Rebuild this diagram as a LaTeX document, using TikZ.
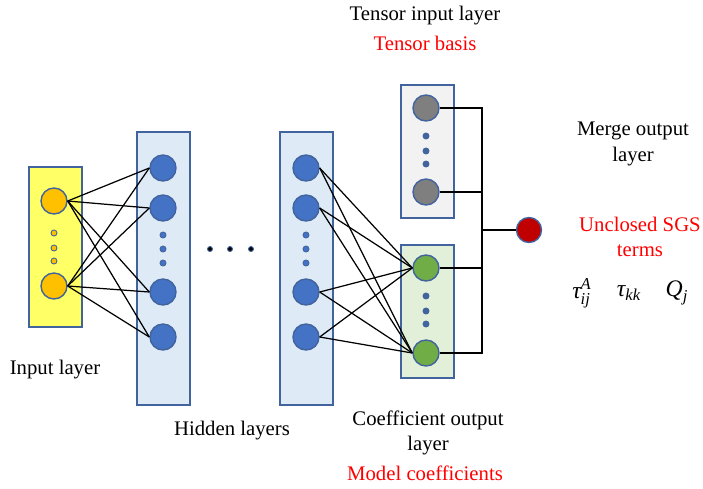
\documentclass[tikz,border=0pt]{standalone}
\usepackage{amsmath}
\usepackage{fontspec}
\setmainfont{Liberation Serif}
\usetikzlibrary{positioning}

\definecolor{edgeblue}{HTML}{41649E}
\definecolor{inyellow}{HTML}{FFFF66}
\definecolor{hidfill}{HTML}{DEEAF6}
\definecolor{tenfill}{HTML}{F2F2F2}
\definecolor{coefill}{HTML}{E2F0D9}
\definecolor{nblue}{HTML}{4472C4}
\definecolor{norange}{HTML}{FFC000}
\definecolor{ngray}{HTML}{7F7F7F}
\definecolor{ngreen}{HTML}{70AD47}
\definecolor{nred}{HTML}{C00000}
\definecolor{txtred}{HTML}{FF0000}

\newcommand{\itx}[1]{\text{\itshape #1}}

\begin{document}
\begin{tikzpicture}[x=0.02cm, y=-0.02cm,
  font=\fontsize{11.8}{14.5}\selectfont,
  layerbox/.style={draw=edgeblue, line width=0.8pt},
  neuron/.style={circle, draw=edgeblue, line width=0.8pt, minimum size=0.52cm, inner sep=0pt},
  smalldot/.style={circle, draw=edgeblue, line width=0.5pt, minimum size=0.12cm, inner sep=0pt},
  link/.style={black, line width=0.7pt},
  symlab/.style={font=\fontsize{13.5}{16}\selectfont}]
\useasboundingbox (0,0) rectangle (703,488);

% layer boxes
\draw[layerbox, fill=inyellow] (29,167) rectangle (82,327);
\draw[layerbox, fill=hidfill] (137,132) rectangle (190,405);
\draw[layerbox, fill=hidfill] (280,132) rectangle (333,405);
\draw[layerbox, fill=tenfill] (401,85) rectangle (454,218);
\draw[layerbox, fill=coefill] (401,245) rectangle (454,378);

% input layer
\node[neuron, fill=norange] (in1) at (54,201) {};
\node[neuron, fill=norange] (in2) at (54,286) {};
\foreach \y in {233,248,261}
  \node[smalldot, fill=norange] at (54,\y) {};

% hidden layers
\node[neuron, fill=nblue] (ha1) at (163,168) {};
\node[neuron, fill=nblue] (ha2) at (163,208) {};
\node[neuron, fill=nblue] (ha3) at (163,292) {};
\node[neuron, fill=nblue] (ha4) at (163,337) {};
\node[neuron, fill=nblue] (hb1) at (306,168) {};
\node[neuron, fill=nblue] (hb2) at (306,208) {};
\node[neuron, fill=nblue] (hb3) at (306,292) {};
\node[neuron, fill=nblue] (hb4) at (306,337) {};
\foreach \y in {235,249,263} {
  \node[smalldot, fill=nblue] at (163,\y) {};
  \node[smalldot, fill=nblue] at (306,\y) {};
}
\foreach \x in {210,230,251}
  \node[smalldot, fill=black, minimum size=0.1cm] at (\x,249) {};

% tensor input layer
\node[neuron, fill=ngray] (t1) at (426,108) {};
\node[neuron, fill=ngray] (t2) at (426,192) {};
\foreach \y in {136,151,164}
  \node[smalldot, fill=edgeblue] at (426,\y) {};

% coefficient output layer
\node[neuron, fill=ngreen] (c1) at (426,268) {};
\node[neuron, fill=ngreen] (c2) at (426,353) {};
\foreach \y in {296,311,324}
  \node[smalldot, fill=edgeblue] at (426,\y) {};

% merge output
\node[neuron, fill=nred, minimum size=0.5cm] (out) at (529,230) {};
\coordinate (bus) at (482,230);

% connections
\foreach \a in {in1,in2}
  \foreach \b in {ha1,ha2,ha3,ha4}
    \draw[link] (\a.east) -- (\b.west);
\foreach \a in {hb1,hb2,hb3,hb4}
  \foreach \b in {c1,c2}
    \draw[link] (\a.east) -- (\b.west);
\foreach \a in {t1,t2,c1,c2}
  \draw[link] (\a.east) -| (bus);
\draw[link] (bus) -- (out.west);

% labels
\node (inlab) at (55,370) {Input layer};
\node (hidlab) at (232,431) {Hidden layers};
\node[align=center] (coelab) at (428,433) {Coefficient output\\layer};
\node[text=txtred] (coered) at (425,473) {Model coefficients};
\node (tenlab) at (425,16) {Tensor input layer};
\node[text=txtred] (tenred) at (425,43) {Tensor basis};
\node[align=center] (merlab) at (633,144) {Merge output\\layer};
\node[align=center, text=txtred] (sgslab) at (640,237) {Unclosed SGS\\terms};
\node[symlab] (tau1) at (582,293) {$\itx{τ}^{\itx{A}}_{\itx{ij}}$};
\node[symlab] (tau2) at (629,293) {$\itx{τ}_{\itx{kk}}$};
\node[symlab] (qj) at (677,293) {$\itx{Q}_{\itx{j}}$};
\end{tikzpicture}
\end{document}
